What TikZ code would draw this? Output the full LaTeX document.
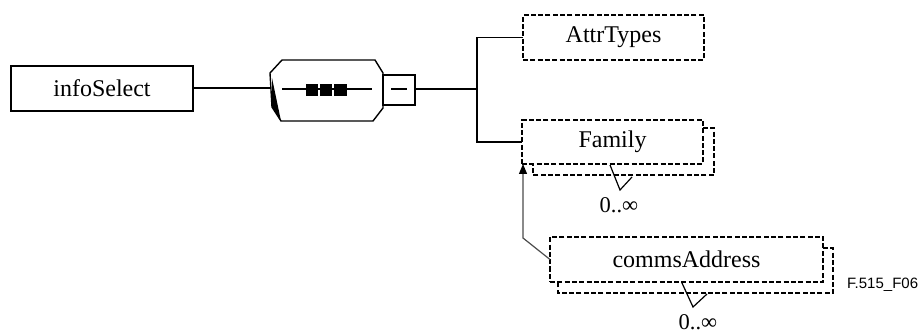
\documentclass[tikz,border=0pt]{standalone}
\usepackage{fontspec}
\setmainfont{Liberation Serif}
\newfontfamily\labelsans{Liberation Sans}
\usetikzlibrary{arrows.meta}
\begin{document}
\begin{tikzpicture}[x=1pt,y=-1pt,
  elem/.style={draw,line width=1.3pt,inner sep=0pt,outer sep=0pt,font=\fontsize{24}{26}\selectfont},
  optelem/.style={elem,dash pattern=on 5pt off 2.3pt,line width=1.5pt},
  shadowline/.style={draw,dash pattern=on 5pt off 2.3pt,line width=1.5pt},
  conn/.style={draw,line width=1.2pt},
  thickconn/.style={draw,line width=2pt},
  mult/.style={font=\fontsize{22.5}{24}\selectfont,inner sep=0pt}]
\useasboundingbox (0,0) rectangle (923,331);

% infoSelect
\node[elem,minimum width=182pt,minimum height=45pt] (info) at (102,88.5) {infoSelect};

% sequence symbol (octagon)
\node[inner sep=0pt,outer sep=0pt,minimum width=113pt,minimum height=61pt] (seq) at (326.5,90.5) {};
\draw[line width=1.4pt,line join=miter] (282,60) -- (375,60) -- (383,73) -- (383,108) -- (373,121) -- (281,121) -- (272,107) -- (270,73) -- cycle;
\fill (272,78) -- (281,121) -- (272,107) -- cycle;
\draw[line width=2pt] (282,89) -- (372,89);
\fill (306,84) rectangle (318,96);
\fill (320,84) rectangle (332,96);
\fill (334,84) rectangle (347,96);

% small box on right of sequence
\node[draw,line width=1.3pt,inner sep=0pt,outer sep=0pt,minimum width=32pt,minimum height=30pt] (chbox) at (399,90) {};
\draw[line width=1.6pt] (391,89) -- (407,89);

% AttrTypes
\node[optelem,minimum width=181pt,minimum height=45pt] (attr) at (613.5,37.5) {AttrTypes};

% Family
\draw[shadowline] (703,128) -- (714,128) -- (714,175) -- (533,175) -- (533,164.5);
\node[optelem,minimum width=181pt,minimum height=44pt,fill=white] (family) at (612.5,142) {Family};
\draw[line width=1.2pt] (610,165) -- (620,190) -- (632,177);
\node[mult] (fammult) at (619,205.5) {0..∞};

% commsAddress
\draw[shadowline] (823,248) -- (833,248) -- (833,293) -- (558,293) -- (558,282.5);
\node[optelem,minimum width=273pt,minimum height=45pt,fill=white] (comms) at (686.5,259.5) {commsAddress};
\draw[line width=1.2pt] (682,283) -- (693,307) -- (707,294);
\node[mult] (commsmult) at (698,322.5) {0..∞};

% connectors
\draw[thickconn] (info.east) -- (info.east -| seq.west);
\coordinate (branch) at (477,89);
\draw[thickconn] (chbox.east |- branch) -- (branch);
\draw[conn] (branch) |- (attr.west);
\draw[conn] (branch) |- (family.west);
\coordinate (bend) at (523,238);
\draw[line width=1.2pt,black!70,-{Triangle[length=10pt,width=8pt,black]}] (comms.west) -- (bend) -- (bend |- family.south);

% figure label
\node[font=\labelsans\fontsize{15}{17}\selectfont,inner sep=0pt,anchor=west] (figlabel) at (847,285) {F.515\_F06};
\end{tikzpicture}
\end{document}
